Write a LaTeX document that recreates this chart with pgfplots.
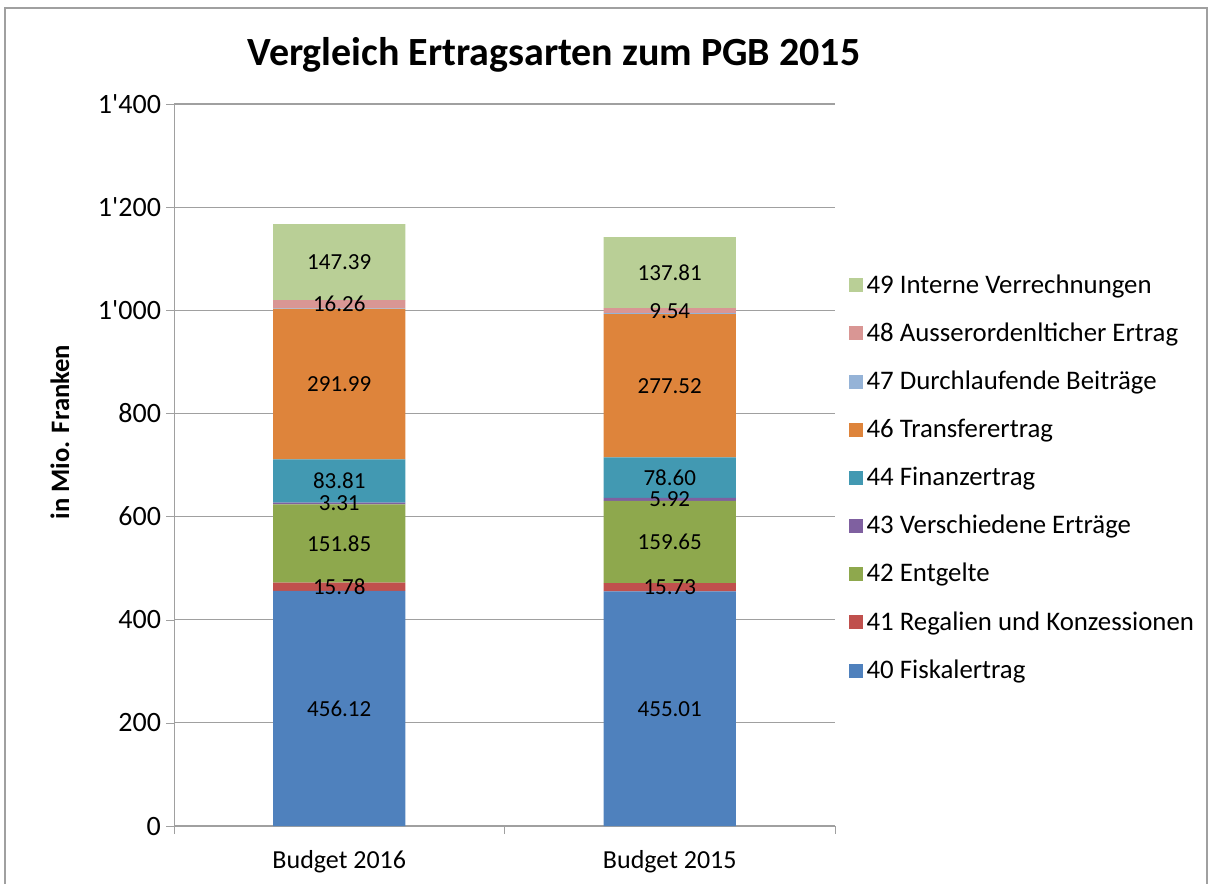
\documentclass[border=0pt]{standalone}
\usepackage{pgfplots}
\pgfplotsset{compat=1.18}
\usepackage{pgfplotstable}
\usepackage{fontspec}
\setmainfont{Carlito}

\definecolor{c40}{HTML}{4F81BD}
\definecolor{c41}{HTML}{C0504D}
\definecolor{c42}{HTML}{8EA84D}
\definecolor{c43}{HTML}{7F60A0}
\definecolor{c44}{HTML}{4299B2}
\definecolor{c46}{HTML}{DE843B}
\definecolor{c47}{HTML}{95B3D7}
\definecolor{c48}{HTML}{D99694}
\definecolor{c49}{HTML}{B9CF96}
\definecolor{framegray}{HTML}{A0A0A0}

% Mio. Franken, Budget 2016 (x=0) and Budget 2015 (x=1)
\pgfplotstableread{
x  f40     f41    f42     f43   f44    f46     f47  f48    f49
0  456.12  15.78  151.85  3.31  83.81  291.99  0.8  16.26  147.39
1  455.01  15.73  159.65  5.92  78.60  277.52  2.0  9.54   137.81
}\ertrag

\begin{document}
\begin{tikzpicture}
\useasboundingbox (0pt,0pt) rectangle (607pt,-442pt);
\draw[framegray, line width=0.8pt] (2.5pt,-442pt) -- (2.5pt,-4pt) -- (603.5pt,-4pt) -- (603.5pt,-442pt);
\node[font=\bfseries\fontsize{20}{24}\selectfont] at (277pt,-27.5pt) {Vergleich Ertragsarten zum PGB 2015};
\node[font=\bfseries\fontsize{13.3}{16}\selectfont, rotate=90] at (30pt,-216pt) {in Mio. Franken};

\begin{axis}[
  at={(87pt,-413pt)}, anchor=south west,
  scale only axis, width=330.5pt, height=361pt,
  ybar stacked, bar width=0.4,
  xmin=-0.5, xmax=1.5, ymin=0, ymax=1400,
  ytick distance=200,
  xtick={0,1}, xticklabels={Budget 2016, Budget 2015},
  minor xtick={-0.5,0.5,1.5},
  major x tick style={draw=none},
  tick align=outside,
  major tick length=4pt, minor tick length=4pt,
  axis lines*=left,
  axis line style={framegray},
  tick style={framegray},
  ymajorgrids, grid style={framegray, line width=0.6pt},
  y tick label style={font=\fontsize{14}{16}\selectfont, xshift=1pt},
  x tick label style={font=\fontsize{13}{15}\selectfont, yshift=-4.5pt},
  /pgf/number format/.cd, 1000 sep={\textquotesingle}, assume math mode=true,
  /pgfplots/.cd,
  reverse legend,
  legend cell align=left,
  legend style={at={(1.02,0.77)}, anchor=north west, draw=none, fill=none,
    font=\fontsize{13.4}{16}\selectfont, row sep=9.3pt, inner sep=0pt},
  every axis plot post/.append style={draw=none,
    legend image code/.code={\fill[##1] (0pt,-3.5pt) rectangle (7pt,3.5pt);}},
  point meta=explicit,
  every node near coord/.append style={anchor=center,
    font=\fontsize{11.5}{13}\selectfont, text=black,
    /pgf/number format/.cd, fixed, fixed zerofill, precision=2, 1000 sep={}},
]
\addplot[fill=c40, nodes near coords] table[x=x, y=f40, meta=f40] {\ertrag};
\addplot[fill=c41, nodes near coords] table[x=x, y=f41, meta=f41] {\ertrag};
\addplot[fill=c42, nodes near coords] table[x=x, y=f42, meta=f42] {\ertrag};
\addplot[fill=c43, nodes near coords] table[x=x, y=f43, meta=f43] {\ertrag};
\addplot[fill=c44, nodes near coords] table[x=x, y=f44, meta=f44] {\ertrag};
\addplot[fill=c46, nodes near coords] table[x=x, y=f46, meta=f46] {\ertrag};
\addplot[fill=c47] table[x=x, y=f47, meta=f47] {\ertrag};
\addplot[fill=c48, nodes near coords] table[x=x, y=f48, meta=f48] {\ertrag};
\addplot[fill=c49, nodes near coords] table[x=x, y=f49, meta=f49] {\ertrag};
\legend{40 Fiskalertrag, 41 Regalien und Konzessionen, 42 Entgelte,
  43 Verschiedene Erträge, 44 Finanzertrag, 46 Transferertrag,
  47 Durchlaufende Beiträge, 48 Ausserordenlticher Ertrag, 49 Interne Verrechnungen}
\end{axis}
\end{tikzpicture}
\end{document}
